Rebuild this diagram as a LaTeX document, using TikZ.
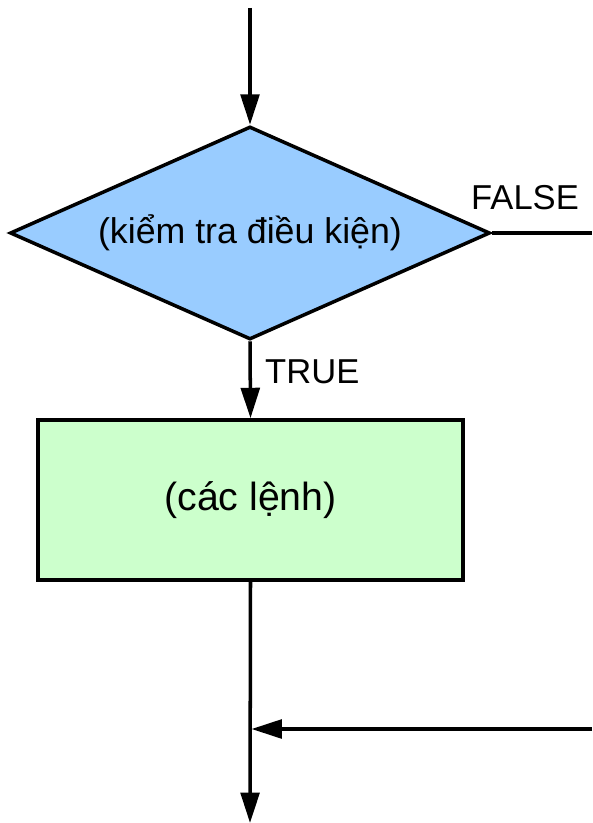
\documentclass[tikz,border=0pt]{standalone}
\usepackage{fontspec}
\setmainfont{Liberation Sans}
\usetikzlibrary{shapes.geometric,arrows.meta}

\begin{document}
\begin{tikzpicture}[x=0.03cm,y=-0.03cm,
  flow/.style={line width=3pt,-{Triangle[length=26pt,width=16pt]}},
  wire/.style={line width=3pt},
  lbl/.style={font=\fontsize{29.5}{34}\selectfont,inner sep=0pt}]

  \definecolor{condcol}{rgb}{0.6,0.8,1.0}
  \definecolor{bodycol}{rgb}{0.8,1.0,0.8}

  \useasboundingbox (0,0) rectangle (592,823);

  % test and loop body
  \node[diamond, draw, line width=3pt, fill=condcol, lbl,
    font=\fontsize{30.5}{36}\selectfont,
    minimum width=14.4cm, minimum height=6.39cm, shape aspect=2.25]
    (cond) at (250,233) {(kiểm tra điều kiện)};
  \node[rectangle, draw, line width=3pt, fill=bodycol, lbl,
    font=\fontsize{33.5}{40}\selectfont,
    minimum width=12.75cm, minimum height=4.8cm]
    (body) at (250.5,500) {(các lệnh)};

  \coordinate (entry) at (250,8);
  \coordinate (falseend) at (592,233);
  \coordinate (join) at (251.5,729);
  \coordinate (back) at (592,729);
  \coordinate (exit) at (250,823);

  % connectors
  \draw[flow] (entry) -- (cond.north);
  \draw[flow] (cond.south) -- (body.north);
  \draw[wire] (cond.east) -- (falseend);
  \draw[flow] (body.south) -- (exit);
  \draw[flow] (back) -- (join);

  \node[lbl, anchor=base west] (falselbl) at (471,210) {FALSE};
  \node[lbl, anchor=base west] (truelbl) at (265,383) {TRUE};

\end{tikzpicture}
\end{document}
